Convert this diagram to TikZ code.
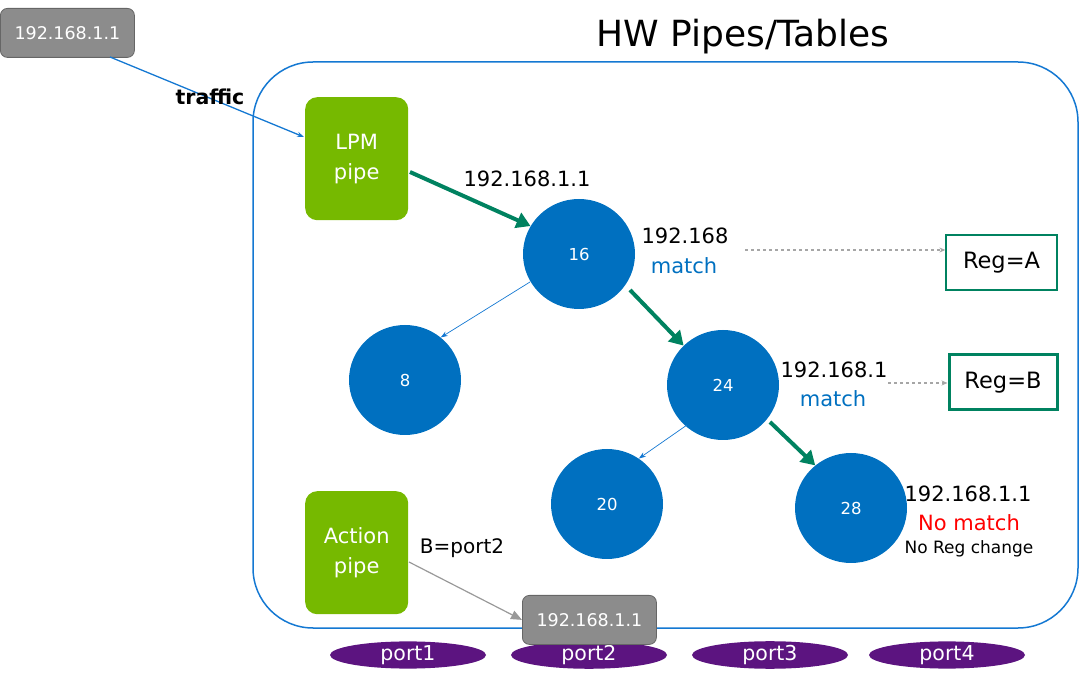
\documentclass[tikz,border=0pt]{standalone}
\usepackage{fontspec}
\setmainfont{DejaVu Sans}
\usetikzlibrary{arrows.meta,shapes.geometric}
\definecolor{nvgreen}{RGB}{118,185,0}
\definecolor{treeblue}{RGB}{0,112,192}
\definecolor{arrgreen}{RGB}{0,130,96}
\definecolor{boxgray}{RGB}{140,140,140}
\definecolor{portpurple}{RGB}{92,20,128}
\definecolor{linkblue}{RGB}{20,120,210}
\tikzset{
  x=1pt,y=-1pt,
  pipebox/.style={fill=nvgreen,rounded corners=12pt,minimum width=103pt,minimum height=123pt,text=white,font=\fontsize{21}{30}\selectfont,align=center,inner sep=0pt},
  ipbox/.style={fill=boxgray,draw=gray!80!black,line width=0.8pt,rounded corners=7pt,text=white,font=\fontsize{17.5}{20}\selectfont,minimum width=134pt,minimum height=49pt,inner sep=0pt},
  treenode/.style={ellipse,fill=treeblue,minimum width=112pt,minimum height=110pt,text=white,font=\fontsize{16.5}{18}\selectfont,inner sep=0pt},
  regbox/.style={draw=arrgreen,fill=white,text=black,font=\fontsize{22.5}{26}\selectfont,inner sep=0pt},
  portnode/.style={ellipse,fill=portpurple,minimum width=156pt,minimum height=24pt,inner sep=0pt,text=white,font=\fontsize{20.5}{20}\selectfont},
  patharrow/.style={draw=arrgreen,line width=4pt,-{Triangle[length=14pt,width=16pt]}},
  thinarrow/.style={draw=linkblue,line width=0.7pt,-{Stealth[length=7pt,width=5pt]}},
  dasharrow/.style={draw=gray!70,dashed,line width=1.2pt,-{Stealth[length=6pt,width=5pt]}},
  lbl/.style={font=\fontsize{21}{22}\selectfont,inner sep=0pt},
}
\begin{document}
\begin{tikzpicture}
\useasboundingbox (0,0) rectangle (1080,684);
% big container
\draw[draw=linkblue,line width=1.5pt,rounded corners=60pt] (253,62) rectangle (1078,628);
\node[font=\fontsize{36}{40}\selectfont] (title) at (743,37) {HW Pipes/Tables};

% top ip box
\node[ipbox,anchor=north west] (ipin) at (0,8) {192.168.1.1};
% pipes
\node[pipebox,anchor=north west] (lpm) at (305,97) {LPM\\pipe};
\node[pipebox,anchor=north west] (act) at (305,491) {Action\\pipe};

% tree
\node[treenode] (n16) at (579,254) {16};
\node[treenode] (n8) at (405,380) {8};
\node[treenode] (n24) at (723,385) {24};
\node[treenode] (n20) at (607,504) {20};
\node[treenode] (n28) at (851,508) {28};

% reg boxes
\node[regbox,line width=1.3pt,minimum width=111pt,minimum height=55pt] (rega) at (1001.5,262.5) {Reg=A};
\node[regbox,line width=3pt,minimum width=108pt,minimum height=55pt] (regb) at (1003,382.5) {Reg=B};

% ports
\node[portnode] (p1) at (408,655) {port1};
\node[portnode] (p2) at (589,655) {port2};
\node[portnode] (p3) at (770,655) {port3};
\node[portnode] (p4) at (947,655) {port4};

% bottom ip box
\node[ipbox,anchor=north west] (ipout) at (522,595) {192.168.1.1};

% traffic arrow
\coordinate (trA) at (110,57);
\coordinate (trB) at (304,137);
\draw[thinarrow,line width=1.3pt] (trA) -- (trB);
\node[font=\bfseries\fontsize{20.5}{22}\selectfont] (traffic) at (210,97) {traffic};

% labels
\node[lbl] (l1) at (527,179) {192.168.1.1};
\node[lbl] (l16a) at (685,236) {192.168};
\node[lbl,text=treeblue] (l16b) at (684,266) {match};
\node[lbl] (l24a) at (834,370) {192.168.1};
\node[lbl,text=treeblue] (l24b) at (833,399) {match};
\node[lbl] (l28a) at (968,494) {192.168.1.1};
\node[lbl,text=red] (l28b) at (969,523) {No match};
\node[font=\fontsize{17}{18}\selectfont,inner sep=0pt] (l28c) at (969,549) {No Reg change};
\node[font=\fontsize{20}{22}\selectfont,inner sep=0pt] (bport) at (462,548) {B=port2};

% green path arrows
\coordinate (g1s) at (410,172);
\draw[patharrow] (g1s) -- (n16.150);
\coordinate (g2s) at (630,290);
\draw[patharrow] (g2s) -- (n24.135);
\coordinate (g3s) at (770,422);
\draw[patharrow] (g3s) -- (n28.130);

% thin blue branches
\coordinate (b1s) at (530,282);
\draw[thinarrow] (b1s) -- (n8.50);
\coordinate (b2s) at (687,425);
\draw[thinarrow] (b2s) -- (n20.55);

% dashed to regs
\coordinate (d1s) at (745,250);
\draw[dasharrow] (d1s) -- (rega.west |- d1s);
\coordinate (d2s) at (888,383);
\draw[dasharrow] (d2s) -- (regb.west |- d2s);

% action arrow
\coordinate (as) at (409,562);
\draw[draw=gray!80,line width=1.2pt,-{Triangle[length=11pt,width=9pt]}] (as) -- (ipout.west);
\end{tikzpicture}
\end{document}
